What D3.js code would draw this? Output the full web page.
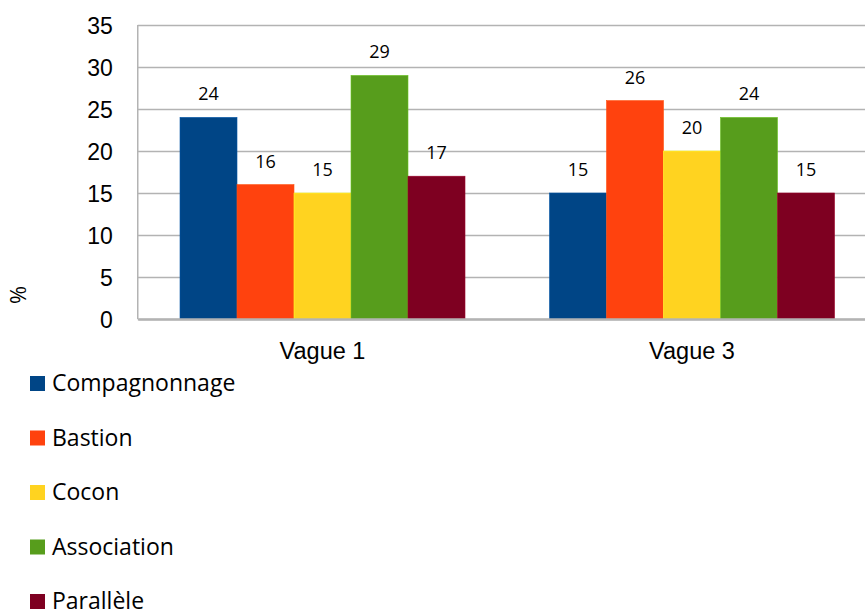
<!DOCTYPE html>
<html>
<head>
<meta charset="utf-8">
<script src="https://cdn.jsdelivr.net/npm/d3@7"></script>
<style>
  body { margin: 0; background: #fff; }
  svg { display: block; font-family: "Open Sans", sans-serif; }
</style>
</head>
<body>
<svg id="chart" width="865" height="610"></svg>
<script>
const width = 865;
const height = 610;

// chart data
const waves = ["Vague 1", "Vague 3"];
const series = ["Compagnonnage", "Bastion", "Cocon", "Association", "Parallèle"];
const colours = ["#004586", "#ff420e", "#ffd320", "#579d1c", "#7e0021"];
const values = [
  [24, 16, 15, 29, 17],   // Vague 1
  [15, 26, 20, 24, 15]    // Vague 3
];
const yTicks = [0, 5, 10, 15, 20, 25, 30, 35];

const plot = {left: 137.75, right: 876.75, top: 25, bottom: 319};

const svg = d3.select("#chart");

const x0 = d3.scaleBand()
    .domain(waves)
    .range([plot.left, plot.right])
    .paddingInner(0.2287)
    .paddingOuter(0.11435);

const x1 = d3.scaleBand()
    .domain(series)
    .range([0, x0.bandwidth()]);

const y = d3.scaleLinear()
    .domain([0, 35])
    .range([plot.bottom, plot.top]);

const colour = d3.scaleOrdinal().domain(series).range(colours);

// gridlines + y labels
const yAxis = svg.append("g")
    .attr("transform", `translate(${plot.left},0)`)
    .call(d3.axisLeft(y).tickValues(yTicks).tickSize(-(plot.right - plot.left)).tickPadding(25));

yAxis.select(".domain").remove();
yAxis.selectAll(".tick line")
    .attr("stroke", "#b3b3b3")
    .attr("stroke-width", 1.5);
yAxis.selectAll(".tick text")
    .attr("fill", "#000")
    .style("font-size", "23px")
    .attr("dy", "0.35em");

// left border
svg.append("line")
    .attr("x1", plot.left).attr("x2", plot.left)
    .attr("y1", plot.top).attr("y2", plot.bottom)
    .attr("stroke", "#b3b3b3")
    .attr("stroke-width", 1.5);

// bars
const groups = svg.append("g")
  .selectAll("g")
  .data(waves)
  .join("g")
    .attr("transform", d => `translate(${x0(d)},0)`);

groups.selectAll("rect")
  .data((d, i) => values[i].map((v, j) => ({key: series[j], value: v})))
  .join("rect")
    .attr("x", d => x1(d.key))
    .attr("y", d => y(d.value))
    .attr("width", x1.bandwidth())
    .attr("height", d => y(0) - y(d.value))
    .attr("fill", d => colour(d.key))
    .attr("stroke", d => d3.color(colour(d.key)).brighter(0.6))
    .attr("stroke-width", 0.6);

groups.selectAll("text")
  .data((d, i) => values[i].map((v, j) => ({key: series[j], value: v})))
  .join("text")
    .attr("x", d => x1(d.key) + x1.bandwidth() / 2)
    .attr("y", d => y(d.value) - 17)
    .attr("text-anchor", "middle")
    .style("font-size", "18px")
    .text(d => d.value);

// x axis
const xAxis = svg.append("g")
    .attr("transform", `translate(0,${plot.bottom})`)
    .call(d3.axisBottom(x0).tickSize(0).tickPadding(23));

xAxis.select(".domain")
    .attr("stroke", "#b3b3b3")
    .attr("stroke-width", 2.5);
xAxis.selectAll(".tick text")
    .attr("fill", "#000")
    .style("font-size", "23.5px");

// y title
svg.append("text")
    .attr("transform", "translate(26,295) rotate(-90)")
    .attr("text-anchor", "middle")
    .style("font-size", "22px")
    .text("%");

// legend
const legend = svg.append("g")
  .selectAll("g")
  .data(series)
  .join("g")
    .attr("transform", (d, i) => `translate(30,${376 + i * 54.5})`);

legend.append("rect")
    .attr("width", 15)
    .attr("height", 15)
    .attr("fill", d => colour(d));

legend.append("text")
    .attr("x", 22)
    .attr("y", 15)
    .style("font-size", "23px")
    .text(d => d);
</script>
</body>
</html>
